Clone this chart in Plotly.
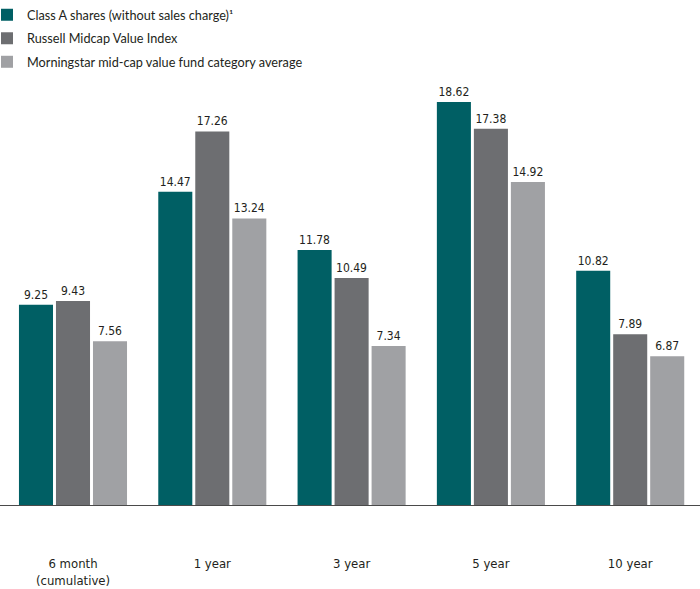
import plotly.graph_objects as go

categories = ["6 month<br>(cumulative)", "1 year", "3 year", "5 year", "10 year"]
class_a = [9.25, 14.47, 11.78, 18.62, 10.82]
russell = [9.43, 17.26, 10.49, 17.38, 7.89]
morningstar = [7.56, 13.24, 7.34, 14.92, 6.87]

series_names = [
    "Class A shares (without sales charge)\u00b9",
    "Russell Midcap Value Index",
    "Morningstar mid-cap value fund category average",
]
colors = ["#005F64", "#6D6E71", "#A0A1A4"]

cond = "DejaVu Sans Condensed, DejaVu Sans, sans-serif"

fig = go.Figure()
for i, (name, vals, col) in enumerate(zip(series_names, [class_a, russell, morningstar], colors)):
    fig.add_trace(go.Bar(
        x=categories, y=vals, name=name,
        marker=dict(color=col, line=dict(width=0)),
        text=[f"{v:.2f}" for v in vals],
        textposition="outside",
        textfont=dict(family=cond, size=12, color="#231F20"),
        cliponaxis=False,
        legendgroup=f"g{i}",
    ))

fig.update_layout(
    width=700, height=589,
    margin=dict(l=0, r=0, t=0, b=84, autoexpand=False),
    paper_bgcolor="white", plot_bgcolor="white",
    barmode="group", bargap=0.203, bargroupgap=0.08,
    showlegend=True,
    legend=dict(
        x=0, y=1.0, xanchor="left", yanchor="top", indentation=-13,
        font=dict(family="Lato, sans-serif", size=12.7, color="#231F20"),
        tracegroupgap=4, bgcolor="rgba(0,0,0,0)",
    ),
    xaxis=dict(
        range=[-0.524, 4.501], automargin=False,
        showline=True, linecolor="#4A4A4A", linewidth=1,
        showgrid=False, ticks="", ticklabelstandoff=46,
        tickfont=dict(family=cond, size=13, color="#231F20"),
    ),
    yaxis=dict(range=[0, 23.33], visible=False, showgrid=False, zeroline=False, automargin=False),
)

fig.write_html(
    "out.html",
    config={"displayModeBar": False},
    post_script="document.body.style.margin='0';document.body.style.overflow='hidden';",
)
